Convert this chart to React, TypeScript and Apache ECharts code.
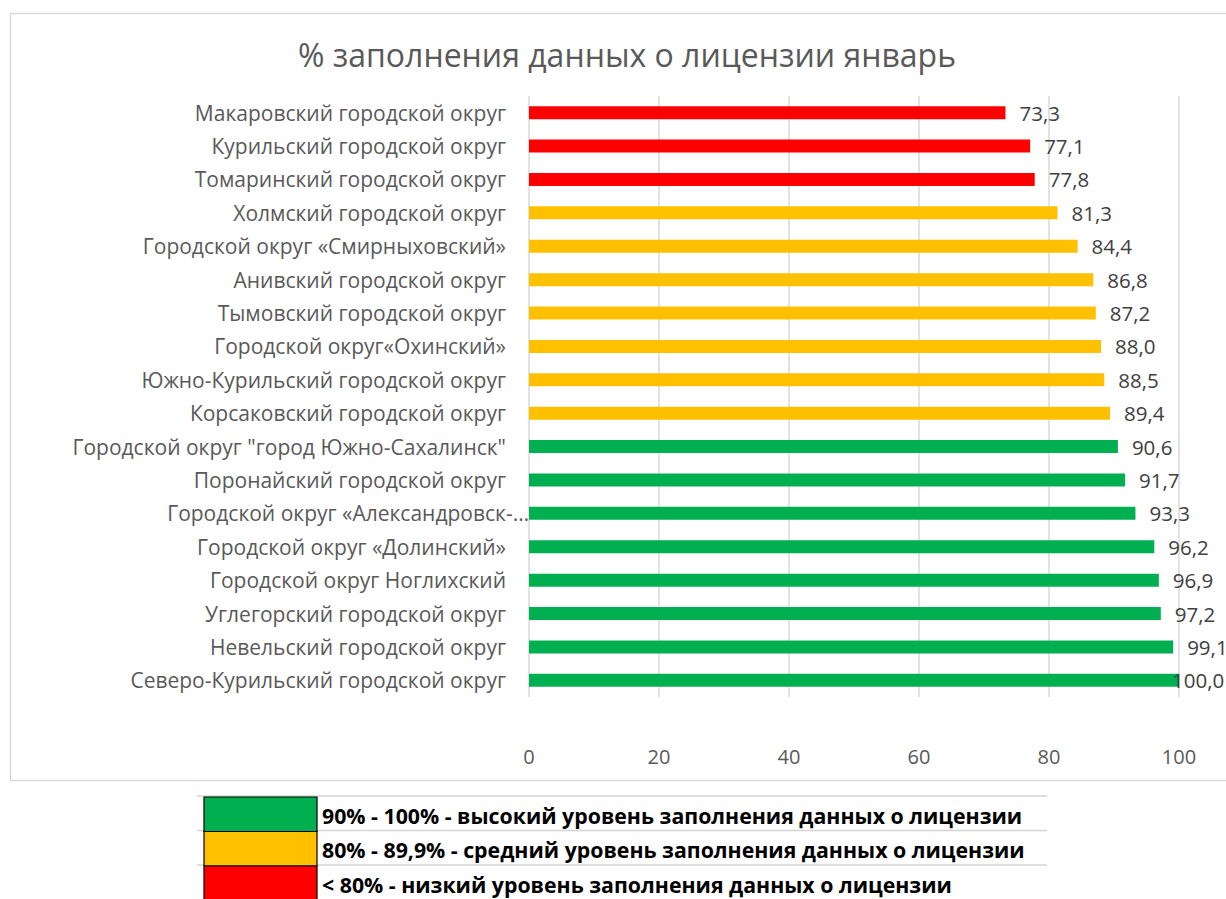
import React, { useEffect, useRef } from "react";
import * as echarts from "echarts";

const title = "% заполнения данных о лицензии январь";

const categories = [
  "Макаровский городской округ",
  "Курильский городской округ",
  "Томаринский городской округ",
  "Холмский городской округ",
  "Городской округ «Смирныховский»",
  "Анивский городской округ",
  "Тымовский городской округ",
  "Городской округ«Охинский»",
  "Южно-Курильский городской округ",
  "Корсаковский городской округ",
  "Городской округ \"город Южно-Сахалинск\"",
  "Поронайский городской округ",
  "Городской округ «Александровск-…",
  "Городской округ «Долинский»",
  "Городской округ Ноглихский",
  "Углегорский городской округ",
  "Невельский городской округ",
  "Северо-Курильский городской округ",
];

const values = [
  73.3, 77.1, 77.8, 81.3, 84.4, 86.8, 87.2, 88.0, 88.5, 89.4, 90.6, 91.7, 93.3,
  96.2, 96.9, 97.2, 99.1, 100.0,
];

const truncatedLabel = "Городской округ «Александровск-…";

const xTicks = [0, 20, 40, 60, 80, 100];

const legendRows = [
  { color: "#00B050", text: "90% - 100% - высокий уровень заполнения данных о лицензии" },
  { color: "#FFC000", text: "80% - 89,9% - средний уровень заполнения данных о лицензии" },
  { color: "#FF0000", text: "< 80% - низкий уровень заполнения данных о лицензии" },
];

const FONT = "'Open Sans', 'Noto Sans', sans-serif";

function colorFor(v: number): string {
  if (v >= 90) return "#00B050";
  if (v >= 80) return "#FFC000";
  return "#FF0000";
}

export default function App() {
  const ref = useRef<HTMLDivElement>(null);

  useEffect(() => {
    document.body.style.margin = "0";
    if (!ref.current) return;
    const chart = echarts.init(ref.current, null, { renderer: "svg" });

    const rowTop = [797, 831.5, 866];
    const rowH = 34.5;
    const graphics: any[] = [
      {
        type: "rect",
        shape: { x: 10.5, y: 13.5, width: 1230, height: 767 },
        style: { fill: "none", stroke: "#D9D9D9", lineWidth: 1.5 },
        silent: true,
      },
    ];
    rowTop.forEach((y) => {
      graphics.push({
        type: "line",
        shape: { x1: 197, y1: y - 1, x2: 1047, y2: y - 1 },
        style: { stroke: "#D4D4D4", lineWidth: 1.5 },
      });
    });
    legendRows.forEach((r, i) => {
      graphics.push({
        type: "rect",
        shape: { x: 204, y: rowTop[i], width: 113, height: rowH },
        style: { fill: r.color, stroke: "#000", lineWidth: 1.2 },
      });
      graphics.push({
        type: "text",
        x: 322,
        y: rowTop[i] + rowH / 2 + 1,
        style: {
          text: r.text,
          fill: "#000",
          font: `bold 21.3px ${FONT}`,
          textVerticalAlign: "middle",
          textAlign: "left",
        },
      });
    });

    const seriesData = values.map((v) =>
      v >= 100 ? { value: v, label: { distance: -7 } } : v
    );

    chart.setOption({
      animation: false,
      title: {
        text: title,
        left: 622,
        textAlign: "center",
        top: 33,
        textStyle: {
          fontFamily: FONT,
          fontSize: 32,
          fontWeight: "normal",
          color: "#595959",
        },
      },
      grid: { left: 529, right: 47, top: 96, bottom: 202, containLabel: false },
      xAxis: {
        type: "value",
        min: 0,
        max: 100,
        interval: 20,
        axisLine: { show: false },
        axisTick: { show: false },
        splitLine: { show: true, lineStyle: { color: "#D9D9D9", width: 1.5 } },
        axisLabel: {
          margin: 49,
          fontFamily: FONT,
          fontSize: 20,
          color: "#595959",
          formatter: (v: number) => (xTicks.includes(v) ? String(v) : ""),
        },
      },
      yAxis: {
        type: "category",
        inverse: true,
        data: categories,
        axisLine: { show: false },
        axisTick: { show: false },
        axisLabel: {
          margin: 0,
          fontFamily: FONT,
          fontSize: 21,
          color: "#595959",
          formatter: (v: string) => (v === truncatedLabel ? `{t|${v}}` : `{n|${v}}`),
          rich: {
            n: { padding: [0, 23, 0, 0], fontFamily: FONT, fontSize: 21, color: "#595959" },
            t: { padding: [0, 0, 0, 0], fontFamily: FONT, fontSize: 21, color: "#595959" },
          },
        },
      },
      series: [
        {
          type: "bar",
          data: seriesData,
          barWidth: 13,
          itemStyle: { color: (p: any) => colorFor(p.value) },
          label: {
            show: true,
            position: "right",
            distance: 14,
            fontFamily: FONT,
            fontSize: 20.5,
            color: "#404040",
            formatter: (p: any) => Number(p.value).toFixed(1).replace(".", ","),
          },
        },
      ],
      graphic: graphics,
    });

    return () => chart.dispose();
  }, []);

  return <div ref={ref} style={{ width: 1226, height: 899 }} />;
}
